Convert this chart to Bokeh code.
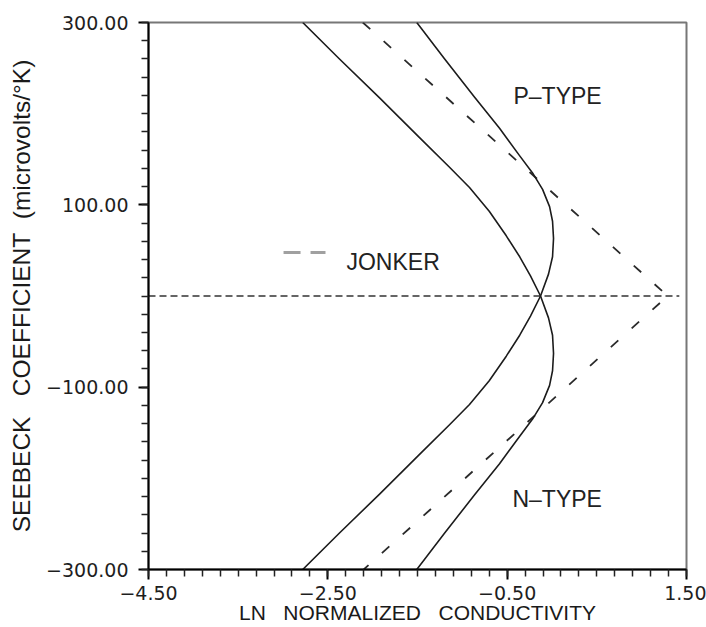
from bokeh.plotting import figure
from bokeh.models import FixedTicker, Range1d
from bokeh.core.properties import value
from bokeh.embed import file_html
from bokeh.resources import INLINE

# Computed Seebeck coefficient (microvolts/K) against ln(normalized conductivity).
# Curve A: upper-left branch, through the crossing, lower bulge, lower-right branch.
curve_a_ln = [-2.78, -2.37, -1.92, -1.48, -1.14, -0.92, -0.70, -0.51, -0.36, -0.24,
              -0.128,
              -0.039, 0.006, 0.017, 0.006, -0.027, -0.105, -0.217, -0.362, -0.585,
              -0.863, -1.197, -1.508]
curve_a_s = [300, 260, 217, 174, 141, 119, 93, 66, 43, 22,
             0,
             -24, -43, -63, -82, -98, -117, -135, -154, -184,
             -218, -260, -300]

# Curve B: upper-right branch, upper bulge, through the crossing, lower-left branch.
curve_b_ln = [-1.508, -1.197, -0.863, -0.585, -0.362, -0.217, -0.105, -0.027, 0.006, 0.017,
              0.006, -0.039,
              -0.128,
              -0.24, -0.36, -0.51, -0.70, -0.92, -1.14, -1.48, -1.92, -2.37, -2.78]
curve_b_s = [300, 260, 218, 184, 154, 135, 117, 98, 82, 63,
             43, 24,
             0,
             -22, -43, -66, -93, -119, -141, -174, -217, -260, -300]

# Jonker relation (straight p- and n-type branches meeting on the S = 0 axis)
jonker_ln = [-2.11, 1.29, -2.10]
jonker_s = [300, 0, -300]

# S = 0 reference line
zero_ln = [-4.5, 1.42]
zero_s = [0, 0]

x_major = [-4.5, -2.5, -0.5, 1.5]
x_labels = ["\u22124.50", "\u22122.50", "\u22120.50", "1.50"]
y_major = [-300, -100, 100, 300]
y_labels = ["\u2212300.00", "\u2212100.00", "100.00", "300.00"]

x_minor = [round(-4.5 + 0.2 * i, 2) for i in range(31)]
y_minor = [-300 + 20 * i for i in range(31)]

p = figure(width=706, height=627,
           x_range=Range1d(-4.5, 1.5), y_range=Range1d(-300, 300),
           output_backend="svg", toolbar_location=None,
           min_border_left=148, min_border_right=20,
           min_border_top=22, min_border_bottom=58)

p.background_fill_color = "white"
p.border_fill_color = "white"
p.grid.visible = False
p.outline_line_color = "#777777"
p.outline_line_width = 2

p.xaxis.ticker = FixedTicker(ticks=x_major, minor_ticks=x_minor)
p.yaxis.ticker = FixedTicker(ticks=y_major, minor_ticks=y_minor)
p.xaxis.major_label_overrides = dict(zip(x_major, x_labels))
p.yaxis.major_label_overrides = dict(zip(y_major, y_labels))

for ax in (p.xaxis, p.yaxis):
    ax.axis_line_width = 2
    ax.axis_line_color = "black"
    ax.major_tick_in = 0
    ax.major_tick_out = 10
    ax.minor_tick_in = 0
    ax.minor_tick_out = 7
    ax.major_tick_line_width = 2
    ax.minor_tick_line_width = 1.5
    ax.major_tick_line_color = "black"
    ax.minor_tick_line_color = "#222222"
    ax.major_label_text_font = "DejaVu Sans"
    ax.major_label_text_font_size = "19px"
    ax.major_label_text_color = "#1e1e1e"
    ax.axis_label_text_font = "Liberation Sans"
    ax.axis_label_text_font_style = "normal"
    ax.axis_label_text_color = "#1a1a1a"

p.xaxis.axis_label = "LN\u00a0\u00a0 NORMALIZED\u00a0\u00a0 CONDUCTIVITY"
p.xaxis.axis_label_text_font_size = "21px"
p.xaxis.major_label_standoff = 6
p.xaxis.axis_label_standoff = -2

p.yaxis.axis_label = "SEEBECK\u00a0\u00a0 COEFFICIENT\u00a0 (microvolts/\u00b0K)"
p.yaxis.axis_label_text_font_size = "24.5px"
p.yaxis.major_label_standoff = 10
p.yaxis.axis_label_standoff = 8

# reference lines
p.line(zero_ln, zero_s, line_color="#333333", line_width=1.5, line_dash="7 4")
p.line(jonker_ln, jonker_s, line_color="#2a2a2a", line_width=1.8, line_dash="10 18")

# computed curves
p.line(curve_a_ln, curve_a_s, line_color="#1c1c1c", line_width=1.6, line_join="round")
p.line(curve_b_ln, curve_b_s, line_color="#1c1c1c", line_width=1.6, line_join="round")

# key for the dashed Jonker lines
p.line([-2.994, -2.526], [47.7, 47.7], line_color="#a0a0a0", line_width=3, line_dash="17 10")

label_font = value("Liberation Sans")
p.text(x=[-2.292], y=[37.1], text=["JONKER"], text_font=label_font,
       text_font_size="23px", text_baseline="alphabetic", text_align="left",
       text_color="#222222")
p.text(x=[-0.43], y=[219.9], text=["P\u2013TYPE"], text_font=label_font,
       text_font_size="23px", text_baseline="alphabetic", text_align="left",
       text_color="#222222")
p.text(x=[-0.441], y=[-222.4], text=["N\u2013TYPE"], text_font=label_font,
       text_font_size="23px", text_baseline="alphabetic", text_align="left",
       text_color="#222222")

open("out.html", "w").write(file_html(p, INLINE))
